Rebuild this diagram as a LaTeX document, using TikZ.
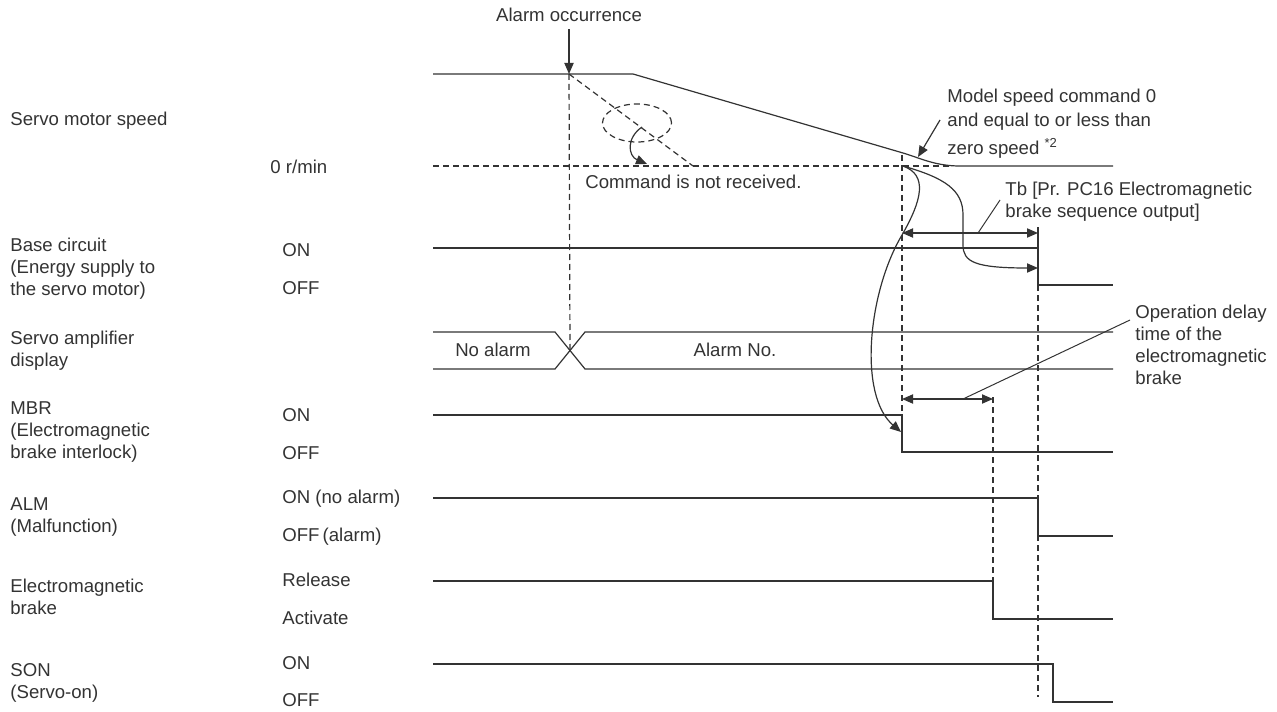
\documentclass[tikz,border=0pt]{standalone}
\usepackage{fontspec}
\setmainfont{Liberation Sans}
\usetikzlibrary{arrows.meta,positioning,shapes.geometric}
\definecolor{ink}{HTML}{333333}

\begin{document}
\begin{tikzpicture}[x=0.5pt, y=-0.5pt,
  every node/.style={font=\fontsize{9.3}{11}\selectfont, text=ink, inner sep=0pt},
  lbl/.style={anchor=west, align=left},
  sig/.style={line width=0.6pt, draw=ink},
  guide/.style={line width=0.6pt, draw=ink, dash pattern=on 3pt off 2pt},
  arrow/.style={-{Triangle[length=5.5pt,width=4.6pt]}, line width=0.6pt, draw=ink},
  dimarrow/.style={{Triangle[length=5.5pt,width=4.6pt]}-{Triangle[length=5.5pt,width=4.6pt]}, line width=0.6pt, draw=ink},
  leader/.style={line width=0.5pt, draw=ink}
]
\useasboundingbox (0,0) rectangle (1277,711);

% signal names
\node[lbl] (spdlbl) at (10,121) {Servo motor speed};
\node[lbl] (baselbl) at (10,269) {Base circuit\\(Energy supply to\\the servo motor)};
\node[lbl] (displbl) at (10,351) {Servo amplifier\\display};
\node[lbl] (mbrlbl) at (10,432) {MBR\\(Electromagnetic\\brake interlock)};
\node[lbl] (almlbl) at (10,517) {ALM\\(Malfunction)};
\node[lbl] (brklbl) at (10,597) {Electromagnetic\\brake};
\node[lbl] (sonlbl) at (10,683) {SON\\(Servo-on)};

% levels
\node[lbl] (zero) at (270,167) {0 r/min};
\node[lbl] (baseon) at (282,250) {ON};
\node[lbl] (baseoff) at (282,288) {OFF};
\node[lbl] (mbron) at (282,415) {ON};
\node[lbl] (mbroff) at (282,453) {OFF};
\node[lbl] (almon) at (282,499) {ON (no alarm)};
\node[lbl] (almoff) at (282,537) {OFF\,(alarm)};
\node[lbl] (brkon) at (282,580) {Release};
\node[lbl] (brkoff) at (282,618) {Activate};
\node[lbl] (sonon) at (282,663) {ON};
\node[lbl] (sonoff) at (282,700) {OFF};

% key instants
\coordinate (alm) at (569,74);
\coordinate (xcross) at (570,350.5);
\coordinate (stop) at (903,166);
\coordinate (tbend) at (1038,233);
\coordinate (tbstart) at (902,233);
\coordinate (odstart) at (902,399);
\coordinate (odend) at (993,399);

% waveforms
\draw[sig] (433,74) -- (633,74) -- (903,153) .. controls (920,158) and (935,166) .. (960,166) -- (1113,166);
\draw[guide] (433,166) -- (950,166);
\draw[sig] (433,248) -- (1038,248) -- (1038,285) -- (1113,285);
\draw[sig] (433,332) -- (555,332) -- (585,369) -- (1113,369);
\draw[sig] (433,369) -- (555,369) -- (585,332) -- (1113,332);
\draw[sig] (433,415) -- (902,415) -- (902,452) -- (1113,452);
\draw[sig] (433,498) -- (1038,498) -- (1038,536) -- (1113,536);
\draw[sig] (433,581) -- (993,581) -- (993,619) -- (1113,619);
\draw[sig] (433,664) -- (1053,664) -- (1053,702) -- (1113,702);
\node (noalm) at (493,350) {No alarm};
\node (almno) at (735,350) {Alarm No.};

% alarm occurrence
\node (almtxt) at (569,15) {Alarm occurrence};
\draw[arrow] ([yshift=-3.5pt]almtxt.south) -- (alm);
\draw[guide] (alm) -- (xcross);
\draw[guide] (alm) -- (693,166);
\node[ellipse, guide, draw, minimum width=34.5pt, minimum height=19pt] (ring) at (637,123) {};
\draw[arrow] (642,127) .. controls (626,138) and (628,156) .. (647,164);
\node[lbl] (nocmd) at (585,182) {Command is not received.};

% brake sequence
\draw[guide] (902,155) -- (902,415);
\draw[sig] (1038,227) -- (1038,248);
\draw[guide] (1038,285) -- (1038,697);
\draw[guide] (993,397) -- (993,581);
\node[lbl] (modeltxt) at (947,124) {Model speed command 0\\[1pt]and equal to or less than\\[3pt]zero speed \textsuperscript{*2}};
\draw[arrow] (940,120) -- (918,157);
\draw[dimarrow] (tbstart) -- (tbend);
\draw[leader] (978,233) -- (1000,200);
\node[lbl] (tbtxt) at (1005,201.5) {Tb [Pr. PC16 Electromagnetic\\brake sequence output]};
\draw[arrow] (stop) .. controls (945,178) and (963,190) .. (963,215) -- (963,245) .. controls (963,262) and (975,268) .. (1038,268);
\draw[arrow] (stop) .. controls (928,175) and (922,200) .. (902,235) .. controls (868,292) and (858,395) .. (901,432);
\draw[dimarrow] (odstart) -- (odend);
\draw[leader] (963,399) -- (1130,320);
\node[lbl] (odtxt) at (1135,344.5) {Operation delay\\time of the\\electromagnetic\\brake};
\end{tikzpicture}
\end{document}
